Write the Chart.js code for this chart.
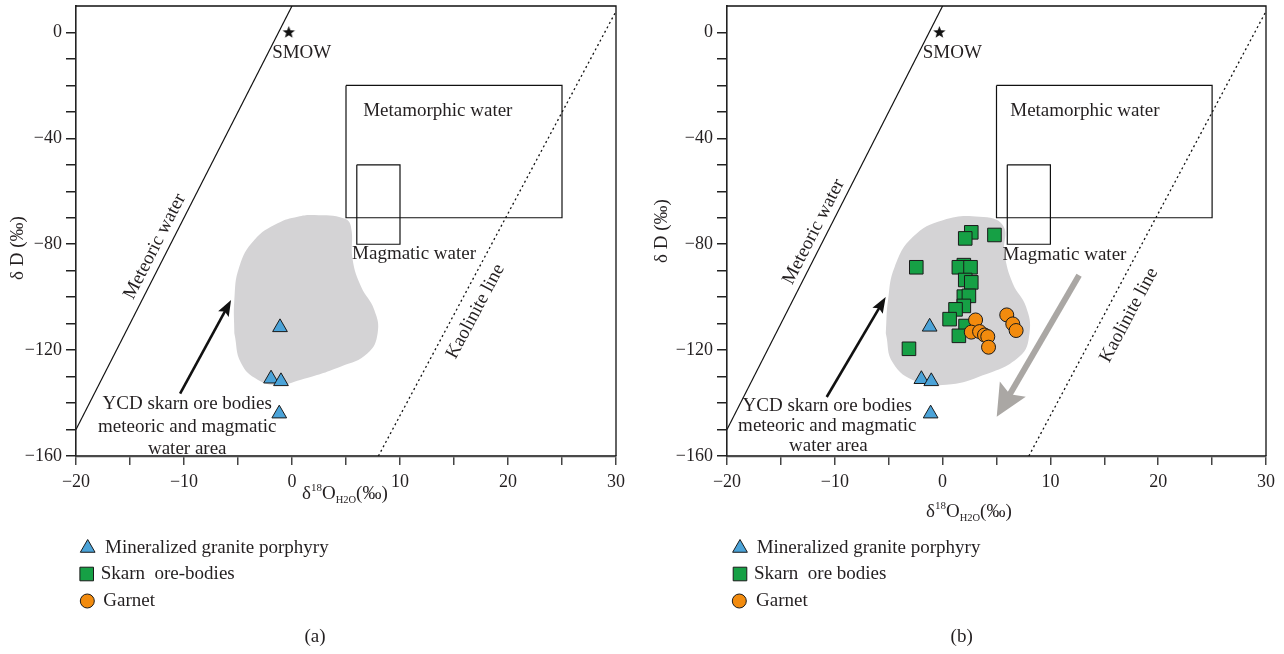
<!DOCTYPE html>
<html>
<head>
<meta charset="utf-8">
<script src="https://cdn.jsdelivr.net/npm/chart.js@4.4.0/dist/chart.umd.min.js"></script>
<style>
  html, body { margin: 0; padding: 0; background: #fff; }
  #wrap { position: relative; width: 1284px; height: 654px; }
  .panel { position: absolute; top: 0; width: 642px; height: 654px; }
</style>
</head>
<body>
<div id="wrap">
  <div class="panel" style="left:0"><canvas id="chartA" width="642" height="654"></canvas></div>
  <div class="panel" style="left:642px"><canvas id="chartB" width="642" height="654"></canvas></div>
</div>
<script>
// δD vs δ18O(H2O) diagram, panels (a) and (b)

const FONT = '"Liberation Serif", "DejaVu Serif", serif';
const INK = '#231f20';
const TEXT_SIZE = 19;

// axis ticks
const xTicks = [-20, -15, -10, -5, 0, 5, 10, 15, 20, 25, 30];
const xLabelled = [-20, -10, 0, 10, 20, 30];
const yTicks = [-160, -150, -140, -130, -120, -110, -100, -90, -80, -70, -60, -50, -40, -30, -20, -10, 0];
const yLabelled = [0, -40, -80, -120, -160];

// reference lines and fields
const meteoricLine = [[-20, -150], [0, 10]];
const kaoliniteLine = [[8, -160], [30, 8]];
const metamorphicBox = [[5, -20], [25, -20], [25, -70], [5, -70], [5, -20]];
const magmaticBox = [[6, -50], [10, -50], [10, -80], [6, -80], [6, -50]];
const smow = [[-0.3, 0]];

// mixed meteoric/magmatic field (grey area)
const mixAreaA = [[-5.34, -113.6], [-5.34, -101.1], [-4.88, -88.5], [-3.49, -78.4], [-1.33, -72.1], [0.53, -69.6],
  [2.07, -69.0], [4.84, -70.3], [5.46, -73.4], [5.62, -86], [6.39, -96], [7.62, -104.8], [7.93, -113.6],
  [7.0, -121.2], [4.54, -126.2], [0.83, -131.2], [-1.33, -133.1], [-3.18, -131.2], [-4.72, -124.9], [-5.34, -113.6]];
const mixAreaB = [[-5.27, -113.6], [-5.06, -101.1], [-4.44, -88.5], [-2.75, -77.2], [0.03, -70.9], [3.43, -69.6],
  [5.59, -72.8], [5.74, -83.5], [6.51, -94.8], [7.74, -103.6], [8.06, -113.6], [7.13, -122.4], [3.43, -130],
  [0.34, -133.1], [-2.43, -131.9], [-4.6, -124.9], [-5.27, -113.6]];

// samples
const graniteA = [[-1.11, -111.4], [-1.94, -130.8], [-1.02, -131.8], [-1.18, -144.0]];
const graniteB = [[-1.2, -111.2], [-1.97, -131.0], [-1.05, -131.8], [-1.11, -144.0]];
const skarnB = [[2.66, -75.5], [2.10, -77.8], [4.81, -76.5], [-2.44, -88.7], [1.97, -87.9], [1.51, -88.7],
  [2.59, -88.7], [2.10, -93.5], [2.66, -94.4], [1.97, -99.8], [2.44, -99.5], [1.97, -103.3], [1.20, -104.6],
  [0.65, -108.3], [2.13, -110.9], [1.51, -114.6], [-3.12, -119.5]];
const garnetB = [[3.06, -108.6], [2.66, -113.2], [3.43, -113.0], [3.89, -114.3], [4.19, -114.9], [4.26, -118.9],
  [5.95, -106.7], [6.51, -110.1], [6.82, -112.6]];

// arrows (tail, tip)
const mixArrowA = [[-10.36, -136.4], [-5.64, -101.1]];
const mixArrowB = [[-10.75, -137.7], [-5.28, -99.9]];
const trendArrowB = [[12.66, -91.7], [5.02, -145.2]];

const legendA = ['Mineralized granite porphyry', 'Skarn  ore-bodies', 'Garnet'];
const legendB = ['Mineralized granite porphyry', 'Skarn  ore bodies', 'Garnet'];

const COLORS = { granite: '#4ba3d8', skarn: '#16a045', garnet: '#f28b0e', area: '#d4d3d5', trend: '#aaa7a4' };

const xy = arr => arr.map(([x, y]) => ({ x, y }));
const minus = v => (v < 0 ? '\u2212' + Math.abs(v) : String(v));

function starImage(r) {
  const s = Math.ceil(r * 2 + 2);
  const c = document.createElement('canvas');
  c.width = s; c.height = s;
  const g = c.getContext('2d');
  g.beginPath();
  for (let i = 0; i < 10; i++) {
    const rr = i % 2 ? r * 0.42 : r;
    const a = -Math.PI / 2 + i * Math.PI / 5;
    g.lineTo(s / 2 + rr * Math.cos(a), s / 2 + rr * Math.sin(a));
  }
  g.closePath();
  g.fillStyle = '#111';
  g.fill();
  return c;
}

function drawArrow(ctx, x1, y1, x2, y2, st) {
  const ang = Math.atan2(y2 - y1, x2 - x1);
  const c = Math.cos(ang), s = Math.sin(ang);
  const bx = x2 - st.head * c, by = y2 - st.head * s;
  ctx.strokeStyle = st.color;
  ctx.fillStyle = st.color;
  ctx.lineWidth = st.width;
  ctx.beginPath();
  ctx.moveTo(x1, y1);
  ctx.lineTo(bx + st.head * 0.3 * c, by + st.head * 0.3 * s);
  ctx.stroke();
  ctx.beginPath();
  ctx.moveTo(x2, y2);
  ctx.lineTo(bx + st.headW / 2 * s, by - st.headW / 2 * c);
  ctx.lineTo(x2 - st.head * 0.82 * c, y2 - st.head * 0.82 * s);
  ctx.lineTo(bx - st.headW / 2 * s, by + st.headW / 2 * c);
  ctx.closePath();
  ctx.fill();
}

function drawMarker(ctx, kind, cx, cy) {
  ctx.lineWidth = 1;
  ctx.strokeStyle = '#1a1a1a';
  ctx.beginPath();
  if (kind === 'triangle') {
    const r = 8.5;
    ctx.moveTo(cx, cy - r);
    ctx.lineTo(cx + r * Math.sin(2 * Math.PI / 3), cy - r * Math.cos(2 * Math.PI / 3));
    ctx.lineTo(cx + r * Math.sin(4 * Math.PI / 3), cy - r * Math.cos(4 * Math.PI / 3));
    ctx.closePath();
    ctx.fillStyle = COLORS.granite;
  } else if (kind === 'rect') {
    ctx.rect(cx - 6.8, cy - 6.8, 13.6, 13.6);
    ctx.fillStyle = COLORS.skarn;
  } else {
    ctx.arc(cx, cy, 7, 0, Math.PI * 2);
    ctx.fillStyle = COLORS.garnet;
  }
  ctx.fill();
  ctx.stroke();
}

function isoTitle(ctx, x, y) {
  const parts = [['δ', 19, 0], ['18', 11, -8], ['O', 19, 0], ['H2O', 10.5, 4], ['(‰)', 19, 0]];
  ctx.textAlign = 'left';
  ctx.textBaseline = 'alphabetic';
  for (const [t, size, dy] of parts) {
    ctx.font = `${size}px ${FONT}`;
    ctx.fillText(t, x, y + dy);
    x += ctx.measureText(t).width;
  }
}

const decor = {
  id: 'decor',
  afterDraw(chart, args, o) {
    const { ctx, chartArea: a, scales: { x, y } } = chart;
    const px = p => [x.getPixelForValue(p[0]), y.getPixelForValue(p[1])];
    ctx.save();

    // frame on top and right
    ctx.strokeStyle = '#111';
    ctx.lineWidth = 1.3;
    ctx.beginPath();
    ctx.moveTo(a.left, a.top);
    ctx.lineTo(a.right, a.top);
    ctx.lineTo(a.right, a.bottom);
    ctx.stroke();

    for (const ar of o.arrows) {
      const [x1, y1] = px(ar.pts[0]);
      const [x2, y2] = px(ar.pts[1]);
      drawArrow(ctx, x1, y1, x2, y2, ar);
    }

    ctx.fillStyle = INK;
    ctx.font = `${TEXT_SIZE}px ${FONT}`;
    ctx.textAlign = 'center';
    ctx.textBaseline = 'middle';
    for (const t of o.labels) {
      const [tx, ty] = px(t.at);
      ctx.save();
      ctx.translate(tx, ty);
      ctx.rotate((t.rot || 0) * Math.PI / 180);
      ctx.fillText(t.text, 0, 0);
      ctx.restore();
    }

    // axis titles
    ctx.save();
    ctx.translate(o.yTitle[0], o.yTitle[1]);
    ctx.rotate(-Math.PI / 2);
    ctx.fillText('δ D (‰)', 0, 0);
    ctx.restore();
    isoTitle(ctx, o.xTitle[0], o.xTitle[1]);

    // legend
    const kinds = ['triangle', 'rect', 'circle'];
    ctx.font = `${TEXT_SIZE}px ${FONT}`;
    o.legend.items.forEach((label, i) => {
      const it = o.legend.pos[i];
      drawMarker(ctx, kinds[i], it[0], it[1]);
      ctx.fillStyle = INK;
      ctx.textAlign = 'left';
      ctx.textBaseline = 'middle';
      ctx.fillText(label, it[2], it[1]);
    });
    ctx.textAlign = 'center';
    ctx.fillText(o.tag[0], o.tag[1], o.tag[2]);
    ctx.restore();
  }
};

function axisScales(yWidth) {
  return {
    x: {
      type: 'linear', min: -20, max: 30,
      afterBuildTicks: s => { s.ticks = xTicks.map(v => ({ value: v })); },
      afterFit: s => { s.height = 198; },
      ticks: { autoSkip: false, maxRotation: 0, padding: 6, color: INK, font: { family: FONT, size: 18 },
        callback: v => (xLabelled.includes(v) ? minus(v) : '') },
      grid: { drawOnChartArea: false, drawTicks: true, tickLength: 9, color: '#444', lineWidth: 1.5 },
      border: { display: true, color: '#4a4a4a', width: 2.2 }
    },
    y: {
      type: 'linear', min: -160, max: 10,
      afterBuildTicks: s => { s.ticks = yTicks.map(v => ({ value: v })); },
      afterFit: s => { s.width = yWidth; },
      // tiny lineHeight: single-line labels, and the top label no longer pads the plot down
      ticks: { autoSkip: false, padding: 4, color: INK, font: { family: FONT, size: 18, lineHeight: 0.1 },
        callback: v => (yLabelled.includes(v) ? minus(v) : '') },
      grid: { drawOnChartArea: false, drawTicks: true, tickLength: 10, color: '#222', lineWidth: 1.5 },
      border: { display: true, color: '#222', width: 1.6 }
    }
  };
}

function refDatasets(area) {
  const line = (data, dash) => ({
    type: 'line', data: xy(data), borderColor: '#111', borderWidth: 1.2, borderDash: dash || [],
    pointRadius: 0, tension: 0, fill: false, order: 5
  });
  return [
    { type: 'line', data: xy(area), borderWidth: 0, borderColor: 'rgba(0,0,0,0)', backgroundColor: COLORS.area,
      fill: 'shape', tension: 0.45, pointRadius: 0, order: 10 },
    line(meteoricLine),
    Object.assign(line(kaoliniteLine, [2, 3]), { borderWidth: 1.3 }),
    line(metamorphicBox),
    line(magmaticBox),
    { data: xy(smow), pointStyle: starImage(6.5), pointRadius: 6, order: 4 }
  ];
}

const pts = (data, style, radius, color, order) => ({
  data: xy(data), pointStyle: style, pointRadius: radius, pointHoverRadius: radius,
  backgroundColor: color, borderColor: '#1a1a1a', borderWidth: 1, order
});

function labelsFor(p) {
  return [
    { text: 'SMOW', at: p.smow },
    { text: 'Metamorphic water', at: p.meta },
    { text: 'Magmatic water', at: p.mag },
    { text: 'Meteoric water', at: p.met, rot: -63 },
    { text: 'Kaolinite line', at: p.kao, rot: -62 },
    { text: 'YCD skarn ore bodies', at: p.ycd[0] },
    { text: 'meteoric and magmatic', at: p.ycd[1] },
    { text: 'water area', at: p.ycd[2] }
  ];
}

const blackArrow = { color: '#111', width: 2.6, head: 16, headW: 12 };
const greyArrow = { color: COLORS.trend, width: 6, head: 32, headW: 30 };

function makeChart(id, cfg) {
  return new Chart(document.getElementById(id), {
    type: 'scatter',
    data: { datasets: cfg.datasets },
    options: {
      responsive: false, animation: false, devicePixelRatio: 1,
      layout: { autoPadding: false, padding: { top: 6, right: cfg.padRight, left: 0, bottom: 0 } },
      scales: axisScales(cfg.yWidth),
      plugins: {
        legend: { display: false },
        tooltip: { enabled: false },
        decor: cfg.decor
      }
    },
    plugins: [decor]
  });
}

makeChart('chartA', {
  yWidth: 76, padRight: 26,
  datasets: [
    pts(graniteA, 'triangle', 8.5, COLORS.granite, 0),
    ...refDatasets(mixAreaA)
  ],
  decor: {
    arrows: [Object.assign({ pts: mixArrowA }, blackArrow)],
    labels: labelsFor({
      smow: [0.9, -7.8], meta: [13.5, -29.8], mag: [11.3, -83.6], met: [-12.7, -80.9], kao: [17.0, -105.4],
      ycd: [[-9.7, -140.3], [-9.7, -148.9], [-9.7, -157.3]]
    }),
    yTitle: [18.5, 248], xTitle: [302, 499],
    legend: { items: legendA, pos: [[87.7, 548, 105], [86.7, 574, 100.7], [87.3, 601, 103.3]] },
    tag: ['(a)', 315, 637]
  }
});

makeChart('chartB', {
  yWidth: 85, padRight: 18,
  datasets: [
    pts(graniteB, 'triangle', 8.5, COLORS.granite, 0),
    pts(garnetB, 'circle', 7, COLORS.garnet, 1),
    pts(skarnB, 'rect', 9.6, COLORS.skarn, 2),
    ...refDatasets(mixAreaB)
  ],
  decor: {
    arrows: [Object.assign({ pts: mixArrowB }, blackArrow), Object.assign({ pts: trendArrowB }, greyArrow)],
    labels: labelsFor({
      smow: [0.9, -7.9], meta: [13.2, -29.8], mag: [11.3, -84.1], met: [-11.95, -75.3], kao: [17.3, -106.8],
      ycd: [[-10.7, -141.2], [-10.7, -148.7], [-10.6, -156.3]]
    }),
    yTitle: [20, 231], xTitle: [284, 517],
    legend: { items: legendB, pos: [[98, 548, 114.7], [98, 574, 112], [97.3, 601, 114]] },
    tag: ['(b)', 319.7, 637]
  }
});
</script>
</body>
</html>
